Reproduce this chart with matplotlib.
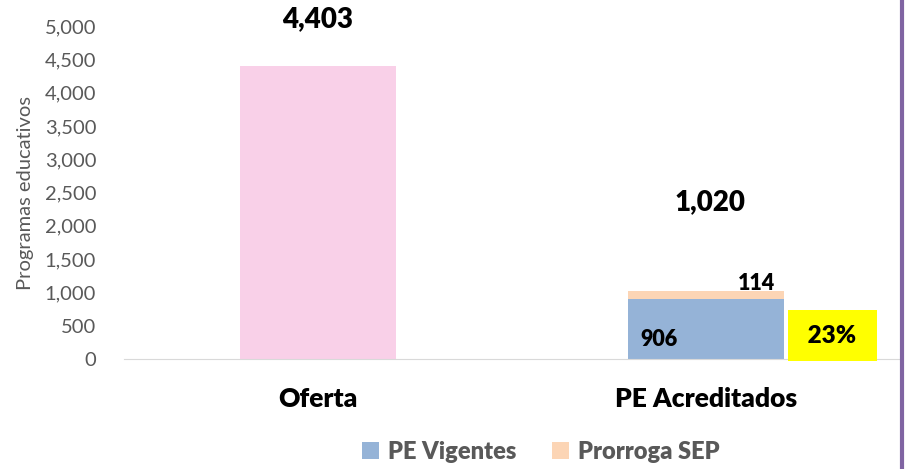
import matplotlib.pyplot as plt
from matplotlib.lines import Line2D

plt.rcParams['font.family'] = ['Lato', 'DejaVu Sans']

categorias = ['Oferta', 'PE Acreditados']
oferta = 4403
pe_vigentes = 906
prorroga_sep = 114
series = ['PE Vigentes', 'Prorroga SEP']

total_acred = pe_vigentes + prorroga_sep
porcentaje = round(100 * total_acred / oferta)

fig = plt.figure(figsize=(9.05, 4.69), dpi=100)
ax = fig.add_axes([124 / 905, 1 - 359 / 469, 776 / 905, 333 / 469])

w = 0.40
ax.bar(0, oferta, width=w, color='#F9D0E8')
b1 = ax.bar(1, pe_vigentes, width=w, color='#95B3D7', label=series[0])
b2 = ax.bar(1, prorroga_sep, width=w, bottom=pe_vigentes, color='#FCD5B5', label=series[1])

ax.set_xlim(-0.5, 1.5)
ax.set_ylim(0, 5000)
ax.set_yticks(range(0, 5001, 500))
ax.set_yticklabels([f'{v:,}' for v in range(0, 5001, 500)])
ax.set_xticks([0, 1])
ax.set_xticklabels(categorias, fontsize=19, fontweight='heavy')
ax.tick_params(axis='x', length=0, pad=20, colors='black')
ax.tick_params(axis='y', length=0, pad=20, labelsize=14.5, colors='#595959')
for s in ['top', 'right', 'left']:
    ax.spines[s].set_visible(False)
ax.spines['bottom'].set_color('#D9D9D9')
ax.set_ylabel('Programas educativos', fontsize=14.5, color='#595959')
ax.yaxis.set_label_coords(-90 / 776, 0.5)

# etiquetas
ax.text(0, oferta + 700, f'{oferta:,}', ha='center', va='center', fontsize=20,
        fontweight='heavy', clip_on=False)
ax.text(1.01, total_acred + 1340, f'{total_acred:,}', ha='center', va='center',
        fontsize=20, fontweight='heavy')
ax.text(1.13, total_acred + 120, f'{prorroga_sep}', ha='center', va='center',
        fontsize=15.5, fontweight='heavy')
ax.text(0.88, 300, f'{pe_vigentes}', ha='center', va='center',
        fontsize=15.5, fontweight='heavy')
ax.text(1.325, 350, f' {porcentaje}% ', ha='center', va='center', fontsize=17.5,
        fontweight='heavy',
        bbox=dict(boxstyle='square,pad=0.6', facecolor='#FFFF00', edgecolor='none'))

fig.legend(handles=[b1, b2], loc='center', bbox_to_anchor=(541 / 905, 1 - 452 / 469),
           ncol=2, frameon=False, handlelength=0.7, handleheight=0.7,
           columnspacing=1.5, handletextpad=0.4,
           prop={'size': 17, 'weight': 'heavy'}, labelcolor='#595959')

fig.add_artist(Line2D([902 / 905, 902 / 905], [0, 1], color='#8064A2', lw=3))

fig.savefig('out.png', dpi=100)
